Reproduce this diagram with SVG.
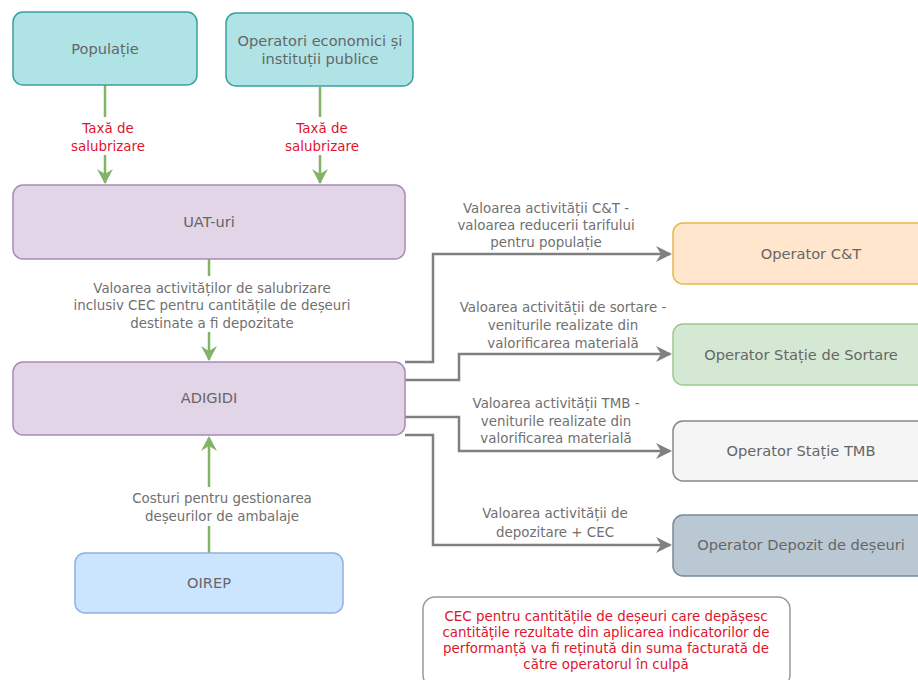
<svg xmlns="http://www.w3.org/2000/svg" width="918" height="680" viewBox="0 0 918 680">
<defs>
<style>
text{font-family:"DejaVu Sans","Verdana",sans-serif;text-anchor:middle;}
.nt{font-size:14.6px;fill:#666666;}
.lt{font-size:13.4px;fill:#707070;}
.rt{font-size:13.4px;fill:#e0142c;}
.g{fill:none;stroke:#82b366;stroke-width:2.5;}
.k{fill:none;stroke:#808080;stroke-width:2.5;}
</style>
</defs>
<rect width="918" height="680" fill="#ffffff"/>
<g id="connectors">
<path class="g" d="M105,85 V117 M105,155 V183"/>
<path d="M97,169 L105,184 L113,169 L105,174 Z" fill="#82b366"/>
<path class="g" d="M320,87 V117 M320,155 V183"/>
<path d="M312,169 L320,184 L328,169 L320,174 Z" fill="#82b366"/>
<path class="g" d="M209,259 V276 M209,332 V360"/>
<path d="M201,346 L209,361 L217,346 L209,351 Z" fill="#82b366"/>
<path class="g" d="M209,553 V526 M209,487 V438"/>
<path d="M201,451 L209,436 L217,451 L209,446 Z" fill="#82b366"/>
<path class="k" d="M405,362 H433 V254 H670"/>
<path d="M656,246 L672,254 L656,262 L661,254 Z" fill="#808080"/>
<path class="k" d="M405,380 H459 V354 H670"/>
<path d="M656,346 L672,354 L656,362 L661,354 Z" fill="#808080"/>
<path class="k" d="M405,417 H459 V451 H670"/>
<path d="M656,443 L672,451 L656,459 L661,451 Z" fill="#808080"/>
<path class="k" d="M405,435 H433 V545 H670"/>
<path d="M656,537 L672,545 L656,553 L661,545 Z" fill="#808080"/>
<text class="rt" x="108" y="133">Taxă de</text>
<text class="rt" x="108" y="151">salubrizare</text>
<text class="rt" x="322" y="133">Taxă de</text>
<text class="rt" x="322" y="151">salubrizare</text>
<text class="lt" x="212" y="293">Valoarea activităților de salubrizare</text>
<text class="lt" x="212" y="310">inclusiv CEC pentru cantitățile de deșeuri</text>
<text class="lt" x="212" y="328">destinate a fi depozitate</text>
<text class="lt" x="222" y="503">Costuri pentru gestionarea</text>
<text class="lt" x="222" y="521">deșeurilor de ambalaje</text>
<text class="lt" x="546" y="213">Valoarea activității C&amp;T -</text>
<text class="lt" x="546" y="230">valoarea reducerii tarifului</text>
<text class="lt" x="546" y="247">pentru populație</text>
<text class="lt" x="563" y="312">Valoarea activității de sortare -</text>
<text class="lt" x="563" y="330">veniturile realizate din</text>
<text class="lt" x="563" y="348">valorificarea materială</text>
<text class="lt" x="556" y="408">Valoarea activității TMB -</text>
<text class="lt" x="556" y="426">veniturile realizate din</text>
<text class="lt" x="556" y="443">valorificarea materială</text>
<text class="lt" x="555" y="518">Valoarea activității de</text>
<text class="lt" x="555" y="537">depozitare + CEC</text>
</g>
<g id="populatie">
<rect x="13" y="12" width="184" height="73" rx="10" fill="#b0e3e6" stroke="#3a9fa3" stroke-width="1.5"/>
<text class="nt" x="105" y="54">Populație</text>
</g>
<g id="operatori">
<rect x="226" y="13" width="187" height="73" rx="10" fill="#b0e3e6" stroke="#3a9fa3" stroke-width="1.5"/>
<text class="nt" x="320" y="46">Operatori economici și</text>
<text class="nt" x="320" y="64">instituții publice</text>
</g>
<g id="uat">
<rect x="13" y="185" width="392" height="74" rx="10" fill="#e1d5e7" stroke="#a68bb8" stroke-width="1.5"/>
<text class="nt" x="209" y="227">UAT-uri</text>
</g>
<g id="adigidi">
<rect x="13" y="362" width="392" height="73" rx="10" fill="#e1d5e7" stroke="#a68bb8" stroke-width="1.5"/>
<text class="nt" x="209" y="403">ADIGIDI</text>
</g>
<g id="oirep">
<rect x="75" y="553" width="268" height="60" rx="10" fill="#cce5ff" stroke="#8fb0e0" stroke-width="1.5"/>
<text class="nt" x="209" y="588">OIREP</text>
</g>
<g id="op-ct">
<rect x="673" y="223" width="276" height="61" rx="10" fill="#ffe6cc" stroke="#e8b74a" stroke-width="1.5"/>
<text class="nt" x="811" y="259">Operator C&amp;T</text>
</g>
<g id="op-sortare">
<rect x="673" y="324" width="276" height="61" rx="10" fill="#d5e8d4" stroke="#9cc98a" stroke-width="1.5"/>
<text class="nt" x="801" y="360">Operator Stație de Sortare</text>
</g>
<g id="op-tmb">
<rect x="673" y="421" width="276" height="60" rx="10" fill="#f5f5f5" stroke="#888888" stroke-width="1.5"/>
<text class="nt" x="801" y="456">Operator Stație TMB</text>
</g>
<g id="op-depozit">
<rect x="673" y="515" width="276" height="61" rx="10" fill="#bac8d3" stroke="#7a8a96" stroke-width="1.5"/>
<text class="nt" x="801" y="550">Operator Depozit de deșeuri</text>
</g>
<g id="nota">
<rect x="423" y="597" width="367" height="90" rx="12" fill="#ffffff" stroke="#999999" stroke-width="1.5"/>
<text class="rt" x="606" y="621">CEC pentru cantitățile de deșeuri care depășesc</text>
<text class="rt" x="606" y="637">cantitățile rezultate din aplicarea indicatorilor de</text>
<text class="rt" x="606" y="653">performanță va fi reținută din suma facturată de</text>
<text class="rt" x="606" y="669">către operatorul în culpă</text>
</g>
</svg>
